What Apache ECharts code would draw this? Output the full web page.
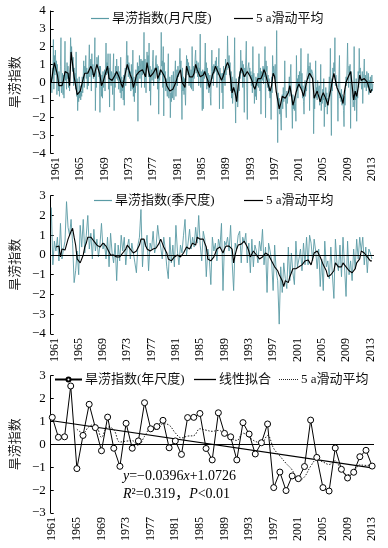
<!DOCTYPE html>
<html><head><meta charset="utf-8">
<script src="https://cdn.jsdelivr.net/npm/echarts@6/dist/echarts.min.js"></script>
<style>html,body{margin:0;padding:0;background:#fff}#c{width:388px;height:548px}</style>
</head><body><div id="c"></div>
<script>
// ---------- DATA ----------
const startYear = 1961;
const tickYears = [1961,1965,1969,1973,1977,1981,1985,1989,1993,1997,2001,2005,2009,2013];

// Monthly drought-flood index, Jan 1961 .. Dec 2013 (12 per row)
const monthlyIndex = [
 0.3,-0.6,0.8,0.2,2.4,-0.4,1.5,0.4,1.8,0.6,1.2,-0.7,
 1.0,0.3,-0.5,0.6,-0.8,0.2,0.9,2.5,-0.6,-0.3,0.5,-0.7,
 0.4,-0.9,0.8,2.3,0.1,0.6,-0.4,1.1,0.2,0.9,-0.3,0.5,
 -0.5,0.7,2.5,1.6,2.0,1.2,0.6,1.4,-0.2,0.8,0.1,0.5,
 -0.4,1.7,-0.8,0.2,-1.6,-0.6,-1.1,0.3,-0.9,-0.2,-1.0,-0.5,
 -0.8,0.3,-0.6,0.4,1.2,-0.3,0.9,0.5,1.5,0.2,0.8,-0.4,
 0.6,-0.2,0.9,2.1,0.3,0.7,1.3,-0.5,1.6,0.4,1.0,0.2,
 0.5,0.9,2.5,-1.6,0.6,-0.3,1.4,0.8,1.1,1.5,0.3,0.9,
 -1.7,0.9,0.2,-0.8,0.4,-0.9,0.6,-0.3,0.1,0.7,-0.5,0.8,
 2.2,0.4,1.1,0.5,1.6,-0.4,0.8,-1.4,1.6,0.3,-0.2,0.6,
 0.4,-0.7,0.8,1.6,-1.6,0.5,-0.3,0.9,0.2,1.3,0.6,0.1,
 0.9,-0.4,0.6,0.2,-0.6,1.4,-0.9,0.3,-0.5,0.1,-1.0,0.4,
 -1.3,0.5,0.8,-0.2,1.2,2.3,0.7,1.5,0.3,1.1,0.9,0.2,
 0.6,-0.5,1.0,0.2,-0.4,1.8,-0.8,0.3,-1.1,0.1,-0.6,0.7,
 0.8,-0.2,1.1,-2.2,0.9,0.4,1.5,0.2,0.9,1.3,-0.3,1.2,
 0.4,1.2,0.5,2.8,-0.3,1.3,0.6,-0.6,0.8,1.7,0.9,1.5,
 0.3,2.2,-0.5,0.9,-1.3,0.4,0.7,0.1,1.2,1.8,-0.2,0.6,
 0.8,0.2,1.3,1.5,0.6,1.0,-0.4,0.9,-1.8,0.5,0.1,0.7,
 0.4,2.8,0.9,1.2,-0.3,2.0,-1.9,1.1,0.3,0.6,-0.5,0.2,
 0.2,-0.8,0.5,1.6,-0.9,-0.4,0.3,-2.0,-0.6,-1.1,0.4,-0.9,
 -0.5,0.6,-1.0,-0.3,0.5,1.2,-0.8,0.1,0.7,-0.2,0.9,0.3,
 0.5,1.0,1.9,0.6,1.2,-0.4,-2.1,0.8,-0.5,0.3,-0.7,0.2,
 -0.6,-1.3,0.2,1.5,0.8,1.3,0.4,1.1,-0.2,0.9,0.6,-0.3,
 0.7,-0.4,2.0,0.3,-0.5,0.9,0.2,0.6,1.4,1.8,0.5,1.2,
 0.9,0.3,1.1,-0.2,0.8,0.5,2.7,-0.3,0.6,0.2,-1.6,0.7,
 -1.5,0.6,0.2,0.9,2.2,0.4,1.1,-0.4,0.8,-0.2,0.5,-0.6,
 -0.3,0.4,-0.8,-1.3,0.6,1.8,0.2,0.9,-0.2,1.0,0.5,0.8,
 1.2,0.6,1.4,-0.3,0.9,0.4,1.0,1.9,-1.5,0.8,0.2,0.5,
 0.3,-0.6,0.5,-1.5,0.9,0.1,0.6,-0.2,1.3,0.4,1.0,0.7,
 2.6,1.2,0.8,1.5,0.4,1.1,-0.5,0.6,-0.9,0.3,-1.2,-0.6,
 -0.4,0.5,2.5,-0.8,-2.3,0.2,-1.0,-0.6,-1.4,-0.9,0.3,-0.5,
 0.6,0.2,1.8,0.9,0.5,1.2,-0.3,1.0,0.4,-1.7,0.8,0.3,
 0.2,2.3,-0.3,-2.1,0.7,0.9,1.1,0.4,0.8,0.2,0.6,-0.2,
 0.4,-0.6,2.0,-0.3,0.5,-1.2,-0.4,-0.8,0.3,-1.0,0.2,-0.2,
 0.5,-0.3,1.6,0.2,-0.5,0.8,-1.8,0.6,0.3,0.1,0.9,-0.1,
 0.8,0.3,2.0,-2.0,1.2,0.6,0.9,-0.3,0.4,-0.5,0.2,-0.6,
 -0.9,-0.4,-2.1,0.3,-0.6,1.5,0.4,0.9,0.6,0.2,1.0,-0.1,
 0.2,2.9,-0.8,-3.4,-0.6,-1.3,-0.9,-1.8,-1.2,-2.0,-2.7,-1.1,
 -0.7,-1.5,-0.3,-1.1,-0.6,1.2,-0.9,-1.4,-2.0,-0.5,-1.2,-0.8,
 -0.9,-0.2,0.3,-0.8,0.4,1.0,-0.6,-1.3,-2.6,-0.7,-1.5,-1.1,
 -1.6,-0.8,-1.2,-2.2,1.5,-0.5,0.2,-0.9,0.4,-0.3,0.6,-0.2,
 0.3,1.9,-0.4,0.5,-0.9,-0.2,-1.1,-1.8,-0.6,0.1,-0.8,-0.3,
 -0.5,0.4,0.8,1.6,0.2,0.9,-1.6,1.1,0.5,0.3,0.7,0.6,
 0.5,0.2,-2.9,-0.8,-1.5,-0.4,1.2,-0.9,-0.3,-1.0,0.1,-0.6,
 -0.7,-0.2,-1.3,-0.5,1.0,-1.6,-0.8,-1.2,-0.4,-1.0,0.2,-2.5,
 -0.9,-1.4,-0.3,-1.1,-0.6,-1.8,-0.9,-1.3,-0.5,0.3,-0.8,1.9,
 -0.4,-3.0,0.2,-0.5,0.8,0.3,1.1,0.6,2.5,-0.2,0.4,0.1,
 0.2,-0.5,-2.2,-0.3,0.4,1.5,-0.9,-0.6,-1.1,-0.4,-1.3,-0.7,
 -1.0,-1.6,-2.5,-0.8,-1.3,-0.4,0.3,-0.2,0.8,2.2,0.5,-0.3,
 0.9,0.4,1.0,-2.6,0.6,0.3,-0.5,-0.9,-1.4,-1.1,2.0,-1.6,
 -0.6,-1.0,0.2,-2.2,-0.5,-0.9,0.6,-0.3,1.9,0.5,0.8,0.2,
 0.3,-0.4,0.6,-1.2,0.2,0.5,1.3,-0.3,0.4,0.1,-0.5,0.6,
 0.2,-0.3,0.5,-0.7,0.1,-0.4,0.3,-0.6,-0.2,0.4,-0.5,-0.1
];
// 5 a moving average of the monthly index, read at 4 points per year
const monthlyMA = [
 0.0,0.6,1.1,1.0, 0.4,-0.2,-0.1,-0.2, 0.1,0.6,0.5,0.5, -0.2,1.7,1.0,0.3,
 -0.2,-0.7,-0.6,-0.5, -0.5,0.2,0.5,0.6, 0.5,0.5,0.9,0.7, 0.3,0.2,1.0,0.7,
 0.4,-0.2,0.0,0.3, 0.6,0.9,0.2,0.2, 0.1,0.1,0.4,0.6, 0.4,0.2,-0.1,-0.3,
 0.2,0.6,1.0,0.7, 0.4,0.2,-0.3,0.0, 0.4,0.4,0.6,0.6, 0.7,0.8,0.3,1.1,
 0.6,0.3,0.4,0.5, 0.6,0.8,0.2,0.4, 0.7,0.6,0.4,0.2, -0.2,-0.3,-0.5,-0.6,
 -0.4,-0.3,0.0,0.3, 0.5,0.7,0.0,-0.1, -0.3,0.9,0.6,0.3, 0.3,0.3,0.5,1.0,
 0.7,0.5,0.3,0.2, 0.4,0.6,0.3,0.1, -0.3,0.0,0.4,0.6, 0.9,0.7,0.5,0.3,
 0.1,0.3,0.6,0.9, 1.1,0.9,0.2,-0.6, -0.3,-0.6,-1.1,-0.2, 0.4,0.8,0.6,0.3,
 0.3,0.6,0.6,0.3, 0.1,-0.2,-0.4,-0.1, 0.2,0.2,0.2,0.4, 0.7,0.5,0.1,-0.2,
 -0.5,-0.2,0.5,0.3, -0.5,-1.0,-1.5,-1.2, -0.8,-0.8,-0.9,-1.0, -0.6,-0.2,-0.7,-1.3,
 -1.0,-0.6,-0.3,-0.1, -0.1,-0.5,-0.8,-0.4, 0.0,0.3,0.5,0.4, 0.2,-0.9,-0.7,-0.5,
 -0.5,-1.1,-0.8,-0.6, -0.6,-1.0,-1.3,-0.8, -0.4,0.1,0.5,0.1, -0.3,-0.5,-0.7,-0.9,
 -1.2,-0.5,0.0,0.2, 0.4,0.6,-0.2,-1.0, -0.5,-0.8,-0.3,0.4, 0.1,0.0,0.2,0.3,
 0.0,-0.3,-0.6,-0.4
];

// Seasonal index, 4 per year (spring..winter), 1961..2013
const seasonalIndex = [
 2.4,-0.5,0.7,0.2, 0.9,-0.3,1.6,-0.2, 0.3,0.7,2.7,1.4, 1.0,1.8,0.6,-1.4,
 -0.8,0.2,-1.0,1.5, 0.4,1.8,0.1,1.0, 2.0,0.3,1.1,-0.2, 1.3,0.2,0.8,-0.1,
 0.5,1.6,0.3,0.6, -0.2,0.9,-0.6,1.1, 0.1,-0.4,0.6,-1.3, 0.5,-0.3,1.0,0.2,
 0.9,-0.5,0.4,0.8, -0.2,0.6,0.1,-0.4, -0.9,0.5,0.9,2.3, -0.6,0.8,0.4,1.0,
 -0.8,0.6,0.3,1.2, 0.1,0.5,1.5,0.8, 0.4,-0.2,0.9,0.3, -0.6,-1.2,0.9,-0.4,
 0.5,-0.6,1.5,0.2, -0.5,0.5,0.1,1.0, 1.8,0.0,0.6,1.3, 0.3,0.9,0.4,1.4,
 0.6,2.0,0.5,-0.3, 1.2,0.8,-1.1,0.3, -0.2,-1.5,0.9,0.2, 0.6,-0.3,0.8,0.4,
 1.6,-1.8,0.7,0.5, 0.9,0.2,1.5,-0.3, -1.8,0.6,0.3,1.0, 1.2,-0.4,0.9,0.6,
 1.1,-0.4,0.6,-0.9, 0.8,-0.6,0.5,0.2, -0.4,0.7,0.2,1.3, -0.5,0.4,-1.9,0.6,
 0.2,-0.3,-1.8,0.5, -0.8,-1.3,-3.5,-0.6, -1.9,-0.4,-1.2,-1.7, 0.4,-1.3,0.1,-0.9,
 -1.5,0.7,-0.6,-0.2, 0.3,-0.8,0.6,-0.5, 0.9,-0.5,1.0,0.6, -0.3,0.8,0.2,-0.7,
 0.3,-1.6,-0.2,-1.8, 0.7,-0.6,-0.3,-1.2, 0.4,-1.0,-2.2,0.8, -0.4,-0.8,0.5,-1.1,
 0.9,-0.6,-2.1,0.7, -1.0,-0.3,-1.3,0.3, -0.7,0.8,-0.2,0.9, 0.2,0.9,-0.5,0.4,
 -0.9,0.3,0.1,-0.2
];
// 5 a moving average of the seasonal index (4 per year)
const seasonalMA = [
 null,null,null,0.4, 0.4,0.45,-0.1,0.3, 0.3,0.25,0.2,0.8, 1.0,1.2,1.35,0.9,
 0.5,-0.2,-0.3,-0.4, -0.3,0.0,0.4,0.6, 0.9,1.0,0.9,0.8, 0.7,0.6,0.5,0.4,
 0.4,0.45,0.6,0.55, 0.45,0.3,0.15,0.0, 0.0,0.0,0.0,-0.1, -0.1,-0.1,-0.05,0.1,
 0.1,0.3,0.5,0.4, 0.3,0.2,0.1,0.15, 0.2,0.3,0.5,0.8, 0.8,0.8,0.5,0.3,
 0.25,0.2,0.25,0.3, 0.3,0.35,0.4,0.6, 0.8,0.6,0.4,0.3, 0.1,-0.2,-0.25,-0.3,
 -0.2,-0.1,-0.05,0.0, 0.0,-0.1,-0.2,0.1, 0.2,0.4,0.35,0.3, 0.4,0.6,0.5,0.5,
 0.9,0.85,0.8,0.8, 0.8,0.6,0.4,-0.2, -0.25,-0.3,-0.4,-0.1, 0.1,0.3,0.35,0.4,
 0.3,0.1,0.3,0.45, 0.5,0.45,0.4,0.3, -0.4,0.0,0.3,0.5, 0.5,0.55,0.6,0.7,
 0.6,0.4,0.2,-0.1, 0.0,0.2,0.1,0.0, -0.1,-0.2,-0.2,-0.1, 0.0,0.1,0.05,0.0,
 -0.1,-0.3,-0.4,-0.6, -0.7,-0.8,-1.0,-1.1, -1.3,-1.6,-1.3,-1.4, -1.4,-1.1,-0.9,-0.7,
 -0.7,-0.7,-0.65,-0.6, -0.6,-0.5,-0.4,-0.3, -0.3,-0.25,-0.2,-0.5, -0.2,0.1,0.15,0.2,
 0.2,-0.1,-0.3,-0.5, -0.6,-0.8,-1.1,-1.0, -1.0,-0.9,-0.8,-0.4, -0.5,-0.6,-0.6,-0.6,
 -0.4,-0.5,-0.6,-0.7, -0.8,-0.85,-0.9,-1.0, -0.7,-0.4,-0.3,-0.2, 0.2,0.2,0.1,0.0,
 -0.1,-0.2,-0.3,-0.3
];

// Annual index 1961..2013
const annualIndex = [
 1.18,0.31,0.33,2.55,-1.06,0.39,1.75,0.73,-0.28,1.19,
 -0.17,-0.96,0.92,-0.17,0.15,1.82,0.68,0.78,1.05,-0.15,
 0.15,-0.44,1.17,1.18,1.35,-0.18,-0.68,1.38,0.48,0.33,
 -0.68,0.95,0.45,-0.42,0.07,0.89,-1.89,-1.21,-2.02,-1.38,
 -1.50,-0.97,1.06,-0.57,-1.89,-2.04,-0.16,-1.09,-1.47,-1.22,
 -0.54,-0.26,-0.95
];
// 5 a moving average of the annual index
const annualMA = [
 null,null,null,null,0.66,0.50,0.79,0.87,0.31,0.76,
 0.64,0.10,0.14,0.16,-0.05,0.35,0.68,0.65,0.90,0.84,
 0.50,0.28,0.36,0.38,0.68,0.62,0.57,0.61,0.47,0.27,
 0.17,0.49,0.31,0.13,0.07,0.39,-0.18,-0.51,-0.83,-1.12,
 -1.60,-1.42,-0.96,-0.67,-0.77,-0.88,-0.72,-1.15,-1.33,-1.20,
 -0.90,-0.92,-0.89
];
// Linear fit (y = -0.0396x + 1.0726) end points, 1961 and 2013
const fitYears = [1961, 2013];
const fitValues = [1.03, -1.03];

// ---------- BUILD ----------
const pairs = (arr, step) => arr.map((v, i) => [startYear + i * step, v]);
const FNUM = "'Liberation Serif','Times New Roman',serif";
const FCJK = "'Liberation Serif','Noto Sans CJK SC',serif";
const TEAL = '#5a9ba5';
const legendNames = {ma_m: '5 a滑动平均', ma_s: '5 a滑动平均', ma_y: '5 a滑动平均'};
const DOTS = 'path://M0,0h2v2h-2zM4,0h2v2h-2zM8,0h2v2h-2zM12,0h2v2h-2zM16,0h2v2h-2zM20,0h2v2h-2zM24,0h2v2h-2zM28,0h2v2h-2zM32,0h2v2h-2zM36,0h2v2h-2z';
const zeroLine = {silent: true, symbol: 'none', label: {show: false},
  lineStyle: {color: '#000', width: 1, type: 'solid'}, data: [{yAxis: 0}]};

function yAx(gi, min, max) {
  return {type: 'value', gridIndex: gi, min: min, max: max, interval: 1,
    name: '旱涝指数', nameLocation: 'middle', nameGap: 20,
    nameTextStyle: {fontFamily: 'Noto Sans CJK SC', fontSize: 13, color: '#222'},
    axisLine: {show: true, onZero: false, lineStyle: {color: '#000', width: 1}},
    axisTick: {show: true, inside: true, length: 3, lineStyle: {color: '#000'}},
    axisLabel: {fontFamily: FNUM, fontSize: 13, color: '#000', margin: 5,
      formatter: v => v < 0 ? '\u2212' + Math.abs(v) : String(v)},
    splitLine: {show: false}};
}
function xAx(gi, min, max, off) {
  return {type: 'value', gridIndex: gi, min: min, max: max,
    axisLine: {show: false, onZero: false}, axisTick: {show: false}, splitLine: {show: false},
    axisLabel: {show: true, rotate: 90, fontFamily: FNUM, fontSize: 12, color: '#000', margin: 4,
      customValues: tickYears.map(y => y + off),
      formatter: v => String(Math.round(v - off))}};
}
function leg(item, left, top, w, h) {
  return {data: [item], left: left, top: top, padding: 0, itemWidth: w, itemHeight: h,
    selectedMode: false, formatter: n => legendNames[n] || n,
    textStyle: {fontFamily: FCJK, fontSize: 13, color: '#111', padding: [0, 0, 0, -2]}};
}

const option = {
  animation: false,
  backgroundColor: '#fff',
  grid: [
    {left: 40, width: 334, top: 11, height: 142.3},
    {left: 40, width: 334, top: 195.7, height: 138.3},
    {left: 40, width: 334, top: 375.7, height: 137.3}
  ],
  xAxis: [xAx(0, 1960.9, 2014.1, 0.75), xAx(1, 1960.9, 2014.1, 0.5), xAx(2, 1960.75, 2013.3, 0)],
  yAxis: [yAx(0, -4, 4), yAx(1, -4, 3), yAx(2, -3, 3)],
  legend: [
    leg({name: '旱涝指数(月尺度)', icon: 'rect'}, 91, 12, 18, 1.2),
    leg({name: 'ma_m', icon: 'rect'}, 234, 12, 19, 1.2),
    leg({name: '旱涝指数(季尺度)', icon: 'rect'}, 94, 194, 18, 1.2),
    leg({name: 'ma_s', icon: 'rect'}, 244, 194, 19, 1.2),
    leg({name: '旱涝指数(年尺度)'}, 54, 373, 27, 5),
    leg({name: '线性拟合', icon: 'rect'}, 194, 373, 22, 1.3),
    leg({name: 'ma_y', icon: DOTS}, 279, 373, 19, 1)
  ],
  graphic: [
    {type: 'text', left: 123, top: 469, silent: true,
      style: {text: '{i|y}=\u22120.0396{i|x}+1.0726', fill: '#000', fontFamily: FNUM, fontSize: 14,
        rich: {i: {fontStyle: 'italic', fontFamily: FNUM, fontSize: 14}}}},
    {type: 'text', left: 123, top: 487, silent: true,
      style: {text: '{i|R}\u00b2=0.319，{i|P}<0.01', fill: '#000', fontFamily: FCJK, fontSize: 14,
        rich: {i: {fontStyle: 'italic', fontFamily: FNUM, fontSize: 14}}}}
  ],
  series: [
    {name: '旱涝指数(月尺度)', type: 'line', xAxisIndex: 0, yAxisIndex: 0, data: pairs(monthlyIndex, 1/12),
      symbol: 'none', lineStyle: {color: TEAL, width: 0.8}, itemStyle: {color: TEAL}, markLine: zeroLine, z: 2},
    {name: 'ma_m', type: 'line', xAxisIndex: 0, yAxisIndex: 0, data: pairs(monthlyMA, 1/4),
      symbol: 'none', lineStyle: {color: '#000', width: 1.2}, itemStyle: {color: '#000'}, z: 3},
    {name: '旱涝指数(季尺度)', type: 'line', xAxisIndex: 1, yAxisIndex: 1, data: pairs(seasonalIndex, 1/4),
      symbol: 'none', lineStyle: {color: TEAL, width: 0.9}, itemStyle: {color: TEAL}, markLine: zeroLine, z: 2},
    {name: 'ma_s', type: 'line', xAxisIndex: 1, yAxisIndex: 1, data: pairs(seasonalMA, 1/4),
      symbol: 'none', connectNulls: false, lineStyle: {color: '#000', width: 1.1}, itemStyle: {color: '#000'}, z: 3},
    {name: '旱涝指数(年尺度)', type: 'line', xAxisIndex: 2, yAxisIndex: 2, data: pairs(annualIndex, 1),
      symbol: 'circle', symbolSize: 6, showSymbol: true,
      lineStyle: {color: '#000', width: 1}, itemStyle: {color: '#fff', borderColor: '#000', borderWidth: 1},
      markLine: zeroLine, z: 5},
    {name: '线性拟合', type: 'line', xAxisIndex: 2, yAxisIndex: 2,
      data: fitYears.map((y, i) => [y, fitValues[i]]),
      symbol: 'none', lineStyle: {color: '#000', width: 1.2}, itemStyle: {color: '#000'}, z: 3},
    {name: 'ma_y', type: 'line', xAxisIndex: 2, yAxisIndex: 2, data: pairs(annualMA, 1),
      symbol: 'none', smooth: 0.4, lineStyle: {color: '#222', width: 1, type: [1.5, 1.5]}, itemStyle: {color: '#222'}, z: 4}
  ]
};
const chart = echarts.init(document.getElementById('c'), null, {renderer: 'canvas'});
chart.setOption(option);
</script></body></html>
